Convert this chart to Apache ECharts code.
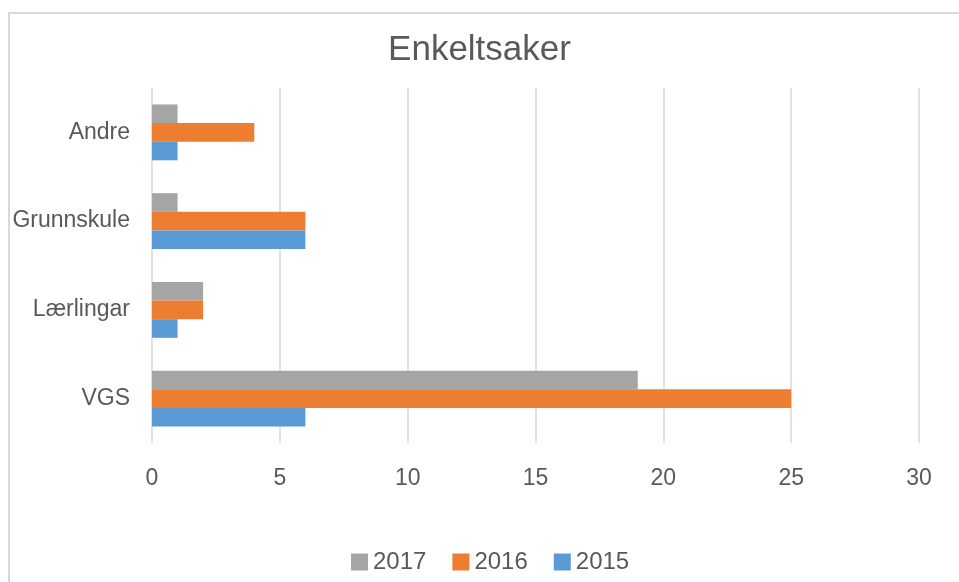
<!DOCTYPE html>
<html>
<head>
<meta charset="utf-8">
<script src="https://cdn.jsdelivr.net/npm/echarts@6/dist/echarts.min.js"></script>
<style>
  html, body { margin: 0; padding: 0; background: #fff; }
  #main { width: 959px; height: 582px; }
</style>
</head>
<body>
<div id="main"></div>
<script>
// categories, bottom to top
const categories = ['VGS', 'Lærlingar', 'Grunnskule', 'Andre'];
const values2015 = [6, 1, 6, 1];
const values2016 = [25, 2, 6, 4];
const values2017 = [19, 2, 1, 1];
const xTicks = [0, 5, 10, 15, 20, 25, 30];

const textColor = '#595959';
const font = 'Liberation Sans, Arial, sans-serif';

const chart = echarts.init(document.getElementById('main'));

function barSeries(name, data, color) {
  return {
    name: name,
    type: 'bar',
    data: data,
    barGap: '0%',
    barCategoryGap: '37%',
    itemStyle: { color: color },
    emphasis: { disabled: true }
  };
}

chart.setOption({
  animation: false,
  textStyle: { fontFamily: font },
  graphic: [{
    type: 'rect',
    shape: { x: 9, y: 13, width: 980, height: 600 },
    style: { fill: 'none', stroke: '#D9D9D9', lineWidth: 2 },
    silent: true,
    z: -10
  }],
  title: {
    text: 'Enkeltsaker',
    left: 'center',
    top: 28,
    textStyle: { fontSize: 35, fontWeight: 'normal', color: textColor, fontFamily: font }
  },
  legend: {
    data: ['2017', '2016', '2015'],
    bottom: 3,
    left: 346,
    icon: 'rect',
    itemWidth: 17,
    itemHeight: 17,
    itemGap: 26,
    textStyle: { fontSize: 24, color: textColor, fontFamily: font }
  },
  grid: { left: 152, right: 40, top: 88, bottom: 139, containLabel: false },
  xAxis: {
    type: 'value',
    min: xTicks[0],
    max: xTicks[xTicks.length - 1],
    interval: 5,
    axisLine: { show: false },
    axisTick: { show: false },
    axisLabel: { fontSize: 23, color: textColor, margin: 24, fontFamily: font },
    splitLine: { show: true, lineStyle: { color: '#D9D9D9', width: 1.5 } }
  },
  yAxis: {
    type: 'category',
    data: categories,
    axisLine: { show: false },
    axisTick: { show: false },
    axisLabel: { fontSize: 23, color: textColor, margin: 22, fontFamily: font, padding: [7, 0, 0, 0] },
    splitLine: { show: false }
  },
  // first series is drawn at the top of each band
  series: [
    barSeries('2017', values2017, '#A5A5A5'),
    barSeries('2016', values2016, '#ED7D31'),
    barSeries('2015', values2015, '#5B9BD5')
  ]
});
</script>
</body>
</html>
